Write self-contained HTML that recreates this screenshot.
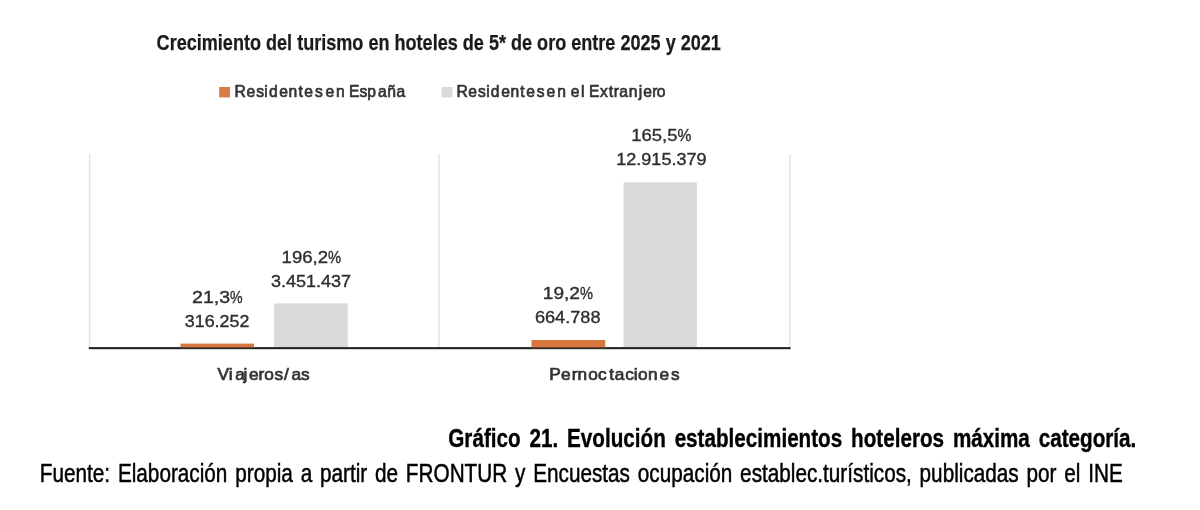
<!DOCTYPE html>
<html lang="es">
<head>
<meta charset="utf-8">
<title>Gráfico 21</title>
<style>
  html, body { margin: 0; padding: 0; background: #ffffff; }
  body { width: 1200px; height: 510px; overflow: hidden; position: relative; }
  svg { position: absolute; left: 0; top: 0; display: block; }
  text { font-family: "Liberation Sans", sans-serif; white-space: pre; }
  .ttl { font-weight: bold; font-size: 22.7px; fill: #1a1a1a; stroke: #1a1a1a; stroke-width: 0.25px; }
  .lab { font-size: 16.9px; fill: #2e2e2e; stroke: #2e2e2e; stroke-width: 0.35px; }
  .nar { font-size: 16.3px; fill: #343434; stroke: #343434; stroke-width: 0.7px; }
  .capb { font-weight: bold; font-size: 26.3px; fill: #000; stroke: #000; stroke-width: 0.4px; }
  .cap { font-size: 26.3px; fill: #000; stroke: #000; stroke-width: 0.5px; }
</style>
</head>
<body>
<svg width="1200" height="510" viewBox="0 0 1200 510">
  <defs>
    <filter id="soft" x="-2%" y="-2%" width="104%" height="104%"><feGaussianBlur stdDeviation="0.65"/></filter>
    <filter id="soft2" x="-2%" y="-2%" width="104%" height="104%"><feGaussianBlur stdDeviation="0.5"/></filter>
  </defs>
  <rect x="0" y="0" width="1200" height="510" fill="#ffffff"/>

  <g filter="url(#soft)">
  <!-- title -->
  <text class="ttl" x="156.6" y="49.7" textLength="564.3" lengthAdjust="spacingAndGlyphs">Crecimiento del turismo en hoteles de 5* de oro entre 2025 y 2021</text>

  <!-- legend -->
  <rect x="219.2" y="87" width="10.8" height="10.4" fill="#dc7a45"/>
  <text class="nar" transform="scale(0.96,1)" y="97.1" x="244.29 256.70 266.89 275.37 280.15 290.97 300.58 310.90 317.02 328.09 336.24 339.10 350.06 358.21 363.45 374.55 382.60 393.79 403.36 412.95">Residentes en España</text>
  <rect x="441.6" y="87" width="10.8" height="10.4" fill="#d9d9d9"/>
  <text class="nar" transform="scale(0.96,1)" y="97.1" x="475.43 487.85 498.04 506.51 511.29 522.12 531.73 542.04 548.16 559.23 567.38 569.20 580.48 588.63 594.41 605.26 613.41 613.66 625.03 634.02 639.44 645.14 654.96 665.40 670.04 679.44 684.11">Residentes en el Extranjero</text>

  <!-- plot frame -->
  <rect x="88.9" y="154.5" width="1.4" height="193" fill="#e1e1e1"/>
  <rect x="438.4" y="154.5" width="1.4" height="193" fill="#e1e1e1"/>
  <rect x="789.2" y="154.5" width="1.4" height="193" fill="#e1e1e1"/>

  <!-- bars -->
  <rect x="180.5" y="343.6" width="73.5" height="4" fill="#d9763f"/>
  <rect x="274" y="303.4" width="73.7" height="44" fill="#d9d9d9"/>
  <rect x="531.5" y="340" width="73.7" height="7.6" fill="#d9763f"/>
  <rect x="623.5" y="182.4" width="73.4" height="165" fill="#d9d9d9"/>

  <!-- axis -->
  <rect x="88.8" y="347.1" width="701.8" height="2.1" fill="#222222"/>
  <rect x="180.5" y="346.8" width="73.5" height="1.6" fill="#d9763f" fill-opacity="0.3"/>
  <rect x="531.5" y="346.8" width="73.7" height="1.6" fill="#d9763f" fill-opacity="0.3"/>

  <!-- data labels -->
  <text class="lab" y="303.2"><tspan x="192.0" textLength="38.1" lengthAdjust="spacingAndGlyphs">21,3</tspan><tspan x="230.1" textLength="12.6" lengthAdjust="spacingAndGlyphs">%</tspan></text>
  <text class="lab" x="184.8" y="326.8" textLength="64.6" lengthAdjust="spacingAndGlyphs">316.252</text>

  <text class="lab" y="262.9"><tspan x="281.6" textLength="46.5" lengthAdjust="spacingAndGlyphs">196,2</tspan><tspan x="328.1" textLength="13.1" lengthAdjust="spacingAndGlyphs">%</tspan></text>
  <text class="lab" x="270.9" y="286.6" textLength="80.2" lengthAdjust="spacingAndGlyphs">3.451.437</text>

  <text class="lab" y="299.2"><tspan x="542.8" textLength="37.2" lengthAdjust="spacingAndGlyphs">19,2</tspan><tspan x="580.0" textLength="13.0" lengthAdjust="spacingAndGlyphs">%</tspan></text>
  <text class="lab" x="534.9" y="323" textLength="65.6" lengthAdjust="spacingAndGlyphs">664.788</text>

  <text class="lab" y="141"><tspan x="631.3" textLength="46.2" lengthAdjust="spacingAndGlyphs">165,5</tspan><tspan x="677.5" textLength="13.9" lengthAdjust="spacingAndGlyphs">%</tspan></text>
  <text class="lab" x="616.2" y="165.3" textLength="90.4" lengthAdjust="spacingAndGlyphs">12.915.379</text>

  <!-- category labels -->
  <text class="nar" transform="scale(1.06,1)" y="380.2" x="205.21 215.84 221.90 229.64 234.87 243.92 249.41 259.07 268.02 274.97 283.89">Viajeros/as</text>
  <text class="nar" transform="scale(1.06,1)" y="380.2" x="518.19 529.21 539.29 544.77 555.07 564.21 574.75 579.87 589.78 597.97 601.86 611.37 622.23 632.94">Pernoctaciones</text>
  </g>

  <!-- captions -->
  <g filter="url(#soft2)">
  <text class="capb" x="448.3" y="446.8" word-spacing="4" textLength="688" lengthAdjust="spacingAndGlyphs">Gráfico 21. Evolución establecimientos hoteleros máxima categoría.</text>
  <text class="cap" x="39.8" y="482.4" word-spacing="2.6" textLength="1083" lengthAdjust="spacingAndGlyphs">Fuente: Elaboración propia a partir de FRONTUR y Encuestas ocupación establec.turísticos, publicadas por el INE</text>
  </g>
</svg>
</body>
</html>
